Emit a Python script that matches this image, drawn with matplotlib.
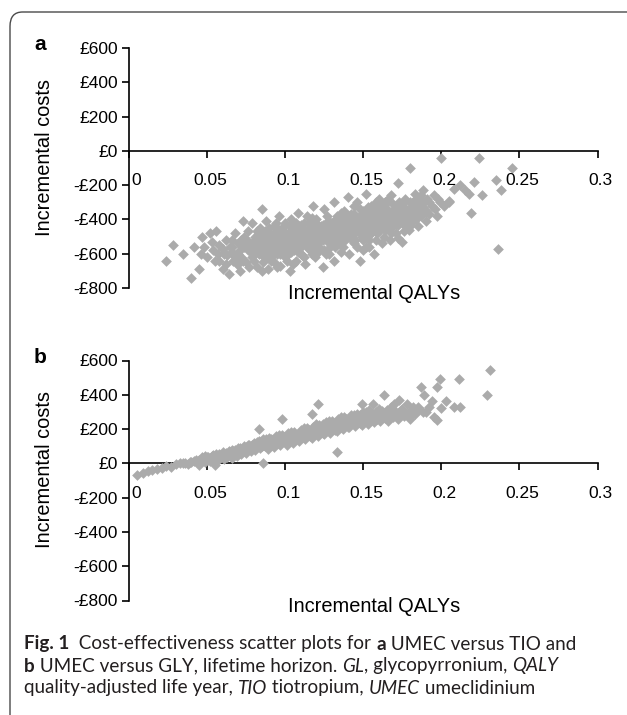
import matplotlib
matplotlib.use('Agg')
import matplotlib.pyplot as plt
from matplotlib.patches import FancyBboxPatch

plt.rcParams['font.family'] = ['Liberation Sans', 'DejaVu Sans']

# axis ticks
xticks = [0, 0.05, 0.1, 0.15, 0.2, 0.25, 0.3]
xlabels = ['0', '0.05', '0.1', '0.15', '0.2', '0.25', '0.3']
yticks = [600, 400, 200, 0, -200, -400, -600, -800]
ylabels = ['£600', '£400', '£200', '£0', '-£200', '-£400', '-£600', '-£800']

# panel a: UMEC vs TIO (incremental QALYs, incremental costs)
a_qaly = [0.024, 0.028, 0.035, 0.040, 0.042, 0.045, 0.046, 0.047, 0.050, 0.052, 0.054, 0.055, 0.056, 0.058,
          0.060, 0.061, 0.062, 0.064, 0.065, 0.067, 0.068, 0.070, 0.071, 0.072, 0.073, 0.074, 0.075, 0.076,
          0.078, 0.079, 0.080, 0.080, 0.081, 0.082, 0.083, 0.084, 0.085, 0.086, 0.087, 0.088, 0.088, 0.089,
          0.090, 0.091, 0.092, 0.093, 0.093, 0.094, 0.095, 0.096, 0.096, 0.097, 0.098, 0.099, 0.100, 0.100,
          0.101, 0.102, 0.103, 0.104, 0.104, 0.105, 0.106, 0.107, 0.108, 0.108, 0.109, 0.110, 0.111, 0.112,
          0.112, 0.113, 0.114, 0.115, 0.116, 0.117, 0.118, 0.118, 0.119, 0.120, 0.121, 0.122, 0.123, 0.124,
          0.125, 0.125, 0.126, 0.127, 0.128, 0.129, 0.130, 0.131, 0.131, 0.132, 0.133, 0.134, 0.135, 0.136,
          0.137, 0.138, 0.139, 0.140, 0.140, 0.141, 0.142, 0.143, 0.144, 0.145, 0.146, 0.146, 0.147, 0.148,
          0.149, 0.150, 0.151, 0.152, 0.152, 0.153, 0.154, 0.155, 0.156, 0.157, 0.158, 0.159, 0.160, 0.161,
          0.162, 0.163, 0.164, 0.165, 0.166, 0.167, 0.168, 0.169, 0.170, 0.171, 0.172, 0.173, 0.174, 0.175,
          0.176, 0.177, 0.178, 0.179, 0.180, 0.181, 0.182, 0.183, 0.184, 0.185, 0.186, 0.187, 0.188, 0.189,
          0.190, 0.191, 0.192, 0.194, 0.195, 0.197, 0.199, 0.200, 0.202, 0.205, 0.208, 0.212, 0.215, 0.219,
          0.221, 0.224, 0.226, 0.235, 0.236, 0.238, 0.245, 0.218, 0.205,
          0.070, 0.072, 0.074, 0.076, 0.077, 0.079, 0.081, 0.082, 0.084, 0.085, 0.086, 0.087, 0.089, 0.090,
          0.091, 0.092, 0.094, 0.095, 0.097, 0.098, 0.099, 0.101, 0.102, 0.103, 0.105, 0.106, 0.107, 0.108,
          0.110, 0.111, 0.112, 0.114, 0.115, 0.116, 0.117, 0.119, 0.120, 0.121, 0.122, 0.124, 0.125, 0.126,
          0.127, 0.128, 0.130, 0.131, 0.132, 0.133, 0.134, 0.136, 0.137, 0.138, 0.139, 0.141, 0.142, 0.143,
          0.144, 0.145, 0.147, 0.148, 0.149, 0.150, 0.151, 0.153, 0.154, 0.155, 0.156, 0.158, 0.159, 0.160,
          0.161, 0.163, 0.164, 0.165, 0.167, 0.168, 0.169, 0.171, 0.172, 0.174, 0.176, 0.178, 0.180, 0.182,
          0.184, 0.186, 0.060, 0.063, 0.066, 0.069, 0.058, 0.053, 0.048, 0.057, 0.062, 0.066]
a_cost = [-645, -550, -600, -740, -560, -690, -600, -500, -620, -480, -580, -640, -470, -550,
          -690, -600, -520, -720, -560, -640, -480, -600, -700, -520, -410, -560, -650, -470,
          -590, -420, -540, -640, -500, -680, -600, -450, -340, -560, -520, -620, -410, -690,
          -480, -580, -540, -650, -440, -500, -600, -380, -560, -670, -460, -520, -620, -420,
          -560, -490, -700, -590, -400, -530, -450, -640, -500, -360, -570, -470, -610, -420,
          -540, -660, -380, -490, -580, -450, -530, -320, -620, -400, -500, -560, -440, -680,
          -340, -470, -600, -520, -410, -560, -460, -300, -640, -500, -380, -540, -430, -590,
          -470, -350, -510, -400, -270, -600, -450, -520, -370, -480, -560, -300, -420, -640,
          -500, -350, -460, -250, -560, -400, -520, -320, -440, -600, -380, -480, -280, -420,
          -540, -350, -460, -300, -400, -520, -260, -440, -350, -480, -190, -400, -320, -530,
          -430, -280, -370, -460, -100, -330, -410, -250, -360, -440, -300, -380, -230, -340,
          -410, -280, -370, -320, -260, -380, -300, -40, -320, -290, -220, -200, -230, -360,
          -180, -40, -260, -170, -570, -230, -100, -250, -300,
          -540, -620, -500, -580, -530, -620, -570, -470, -530, -610, -490, -580, -540, -450,
          -520, -610, -470, -550, -510, -580, -440, -520, -600, -470, -560, -510, -420, -590,
          -520, -450, -490, -560, -420, -520, -600, -470, -540, -430, -490, -520, -580, -420,
          -470, -540, -500, -410, -560, -450, -490, -400, -530, -440, -480, -420, -370, -480,
          -540, -410, -460, -380, -440, -520, -400, -460, -350, -480, -390, -430, -330, -470,
          -370, -410, -300, -450, -360, -400, -310, -380, -430, -370, -330, -410, -300, -350,
          -280, -340, -570, -610, -520, -660, -640, -530, -560, -600, -660, -590]
# more points in the dense core of panel a
a_core = [(0.066, -560), (0.068, -620), (0.071, -580), (0.073, -640), (0.075, -520), (0.078, -560),
          (0.080, -600), (0.082, -540), (0.083, -500), (0.085, -570), (0.086, -650), (0.088, -500),
          (0.090, -560), (0.091, -640), (0.093, -580), (0.094, -420), (0.096, -520), (0.097, -600),
          (0.098, -540), (0.100, -480), (0.101, -640), (0.103, -530), (0.104, -470), (0.106, -580),
          (0.107, -540), (0.109, -440), (0.110, -600), (0.111, -500), (0.113, -520), (0.114, -460),
          (0.116, -480), (0.117, -390), (0.118, -570), (0.120, -460), (0.121, -590), (0.123, -480),
          (0.124, -430), (0.126, -500), (0.127, -380), (0.128, -600), (0.129, -450), (0.130, -540),
          (0.132, -420), (0.133, -520), (0.135, -470), (0.136, -360), (0.137, -560), (0.139, -420),
          (0.140, -500), (0.141, -380), (0.143, -440), (0.144, -320), (0.145, -520), (0.146, -400),
          (0.148, -340), (0.149, -470), (0.150, -400), (0.152, -430), (0.153, -330), (0.154, -490),
          (0.156, -360), (0.157, -420), (0.158, -300), (0.160, -400), (0.161, -450), (0.162, -320),
          (0.164, -380), (0.165, -420), (0.166, -280), (0.168, -360), (0.170, -400), (0.171, -330),
          (0.173, -300), (0.175, -380), (0.177, -420), (0.179, -340), (0.181, -380), (0.183, -320),
          (0.185, -300), (0.187, -260), (0.189, -300), (0.192, -300), (0.196, -340), (0.198, -280),
          (0.180, -440), (0.176, -470), (0.172, -510), (0.168, -480), (0.163, -500), (0.158, -520),
          (0.154, -560), (0.150, -580), (0.112, -620), (0.105, -660), (0.095, -680), (0.085, -700),
          (0.077, -680), (0.070, -660),
          (0.081, -520), (0.083, -560), (0.084, -490), (0.086, -530), (0.087, -470), (0.089, -600),
          (0.090, -520), (0.092, -500), (0.093, -530), (0.095, -480), (0.096, -460), (0.098, -500),
          (0.099, -560), (0.100, -540), (0.102, -520), (0.103, -440), (0.105, -490), (0.106, -540),
          (0.108, -470), (0.109, -520), (0.110, -430), (0.111, -550), (0.113, -480), (0.114, -500),
          (0.115, -540), (0.117, -500), (0.118, -430), (0.119, -510), (0.120, -480), (0.122, -460),
          (0.123, -520), (0.124, -470), (0.125, -500), (0.127, -440), (0.128, -490), (0.129, -510),
          (0.130, -420), (0.131, -470), (0.133, -480), (0.134, -420), (0.135, -500), (0.137, -440),
          (0.138, -470), (0.139, -380), (0.140, -450), (0.142, -410), (0.143, -500), (0.144, -460),
          (0.146, -440), (0.147, -390), (0.148, -480), (0.150, -430), (0.151, -360), (0.152, -480),
          (0.154, -420), (0.155, -380), (0.156, -460), (0.157, -340), (0.159, -400), (0.160, -360),
          (0.162, -430), (0.163, -380), (0.165, -340), (0.166, -430), (0.167, -390), (0.169, -350),
          (0.170, -420), (0.172, -360), (0.173, -400), (0.175, -340), (0.176, -300), (0.178, -380),
          (0.180, -350), (0.182, -300), (0.184, -400), (0.186, -380), (0.188, -330), (0.190, -350)]

# panel b: UMEC vs GLY
b_qaly = [0.005, 0.009, 0.012, 0.015, 0.018, 0.021, 0.024, 0.027, 0.030, 0.033, 0.036, 0.038, 0.040, 0.042,
          0.044, 0.045, 0.046, 0.048, 0.049, 0.050, 0.051, 0.052, 0.053, 0.054, 0.055, 0.055, 0.056, 0.057,
          0.058, 0.059, 0.060, 0.061, 0.062, 0.063, 0.064, 0.065, 0.066, 0.067, 0.068, 0.069, 0.070, 0.071,
          0.072, 0.073, 0.074, 0.075, 0.076, 0.077, 0.078, 0.079, 0.080, 0.081, 0.082, 0.083, 0.083, 0.084,
          0.085, 0.086, 0.086, 0.087, 0.088, 0.089, 0.090, 0.091, 0.092, 0.093, 0.094, 0.095, 0.096, 0.097,
          0.098, 0.098, 0.099, 0.100, 0.101, 0.102, 0.103, 0.104, 0.105, 0.106, 0.107, 0.108, 0.109, 0.110,
          0.111, 0.112, 0.113, 0.114, 0.115, 0.116, 0.117, 0.117, 0.118, 0.119, 0.120, 0.121, 0.121, 0.122,
          0.123, 0.124, 0.125, 0.126, 0.127, 0.128, 0.129, 0.130, 0.131, 0.132, 0.133, 0.133, 0.134, 0.135,
          0.136, 0.137, 0.138, 0.139, 0.140, 0.141, 0.142, 0.143, 0.144, 0.145, 0.146, 0.147, 0.148, 0.149,
          0.149, 0.150, 0.151, 0.152, 0.153, 0.154, 0.155, 0.156, 0.156, 0.157, 0.158, 0.159, 0.160, 0.161,
          0.162, 0.163, 0.164, 0.165, 0.166, 0.167, 0.168, 0.169, 0.170, 0.171, 0.172, 0.173, 0.174, 0.175,
          0.176, 0.178, 0.179, 0.180, 0.182, 0.183, 0.185, 0.187, 0.189, 0.190, 0.192, 0.194, 0.195, 0.197,
          0.197, 0.199, 0.200, 0.203, 0.208, 0.211, 0.212, 0.229, 0.231,
          0.045, 0.047, 0.050, 0.052, 0.054, 0.057, 0.059, 0.061, 0.063, 0.065, 0.067, 0.069, 0.071, 0.073,
          0.075, 0.077, 0.079, 0.081, 0.083, 0.085, 0.087, 0.089, 0.091, 0.093, 0.095, 0.097, 0.099, 0.101,
          0.103, 0.105, 0.107, 0.109, 0.111, 0.113, 0.115, 0.117, 0.119, 0.121, 0.123, 0.125, 0.127, 0.129,
          0.131, 0.133, 0.135, 0.137, 0.139, 0.141, 0.143, 0.145, 0.147, 0.151, 0.153, 0.157, 0.161, 0.165,
          0.169, 0.174]
b_cost = [-70, -55, -45, -40, -35, -25, -15, -20, -5, 0, 5, -5, 10, 15,
          5, -10, 20, 30, 10, 25, 40, 15, 35, 50, -10, 25, 40, 20,
          55, 35, 45, 25, 60, 40, 70, 50, 30, 60, 80, 45, 65, 90,
          55, 75, 100, 60, 85, 110, 70, 95, 120, 80, 100, 200, 130, 90,
          115, 0, 140, 100, 125, 85, 150, 110, 130, 95, 160, 120, 140, 105,
          260, 165, 130, 150, 110, 175, 135, 155, 120, 185, 145, 165, 130, 195,
          155, 175, 140, 205, 165, 185, 290, 150, 215, 175, 195, 347, 160, 225,
          185, 205, 170, 240, 195, 215, 180, 250, 205, 225, 69, 190, 260, 215,
          235, 200, 270, 225, 245, 210, 280, 235, 255, 220, 290, 240, 265, 345,
          225, 300, 250, 270, 230, 310, 255, 345, 280, 240, 300, 260, 320, 245,
          285, 398, 265, 310, 250, 290, 330, 270, 345, 300, 260, 370, 285, 320,
          275, 345, 300, 260, 330, 290, 310, 446, 398, 300, 330, 364, 270, 446,
          255, 490, 322, 364, 331, 490, 331, 398, 547,
          20, 25, 40, 30, 30, 45, 50, 55, 55, 65, 70, 75, 70, 90,
          95, 90, 110, 105, 110, 130, 125, 115, 140, 145, 135, 150, 155, 160,
          150, 170, 165, 180, 170, 190, 180, 200, 190, 210, 200, 220, 210, 230,
          220, 240, 230, 250, 240, 260, 250, 270, 260, 280, 290, 270, 300, 280,
          300, 310]
# more points in the dense band of panel b
b_core = [(0.035, 0), (0.039, 10), (0.043, 20), (0.047, 35), (0.049, 45), (0.051, 20), (0.053, 45),
          (0.056, 55), (0.058, 30), (0.060, 65), (0.062, 45), (0.064, 55), (0.066, 80), (0.068, 65),
          (0.070, 90), (0.072, 80), (0.074, 85), (0.076, 105), (0.078, 95), (0.080, 100), (0.082, 125),
          (0.084, 120), (0.086, 110), (0.088, 145), (0.090, 130), (0.092, 115), (0.094, 140), (0.096, 165),
          (0.098, 145), (0.100, 130), (0.102, 155), (0.104, 185), (0.106, 160), (0.108, 150), (0.110, 175),
          (0.112, 205), (0.114, 180), (0.116, 160), (0.118, 195), (0.120, 230), (0.122, 195), (0.124, 180),
          (0.126, 215), (0.128, 250), (0.130, 215), (0.132, 195), (0.134, 235), (0.136, 270), (0.138, 235),
          (0.140, 215), (0.142, 255), (0.144, 285), (0.146, 250), (0.148, 235), (0.150, 270), (0.152, 300),
          (0.154, 265), (0.158, 285), (0.162, 305), (0.166, 265), (0.170, 290), (0.175, 300), (0.180, 285),
          (0.185, 330), (0.188, 300),
          (0.055, 40), (0.058, 45), (0.061, 40), (0.064, 65), (0.067, 55), (0.070, 75), (0.073, 70),
          (0.076, 90), (0.079, 85), (0.082, 110), (0.085, 100), (0.088, 115), (0.091, 125), (0.094, 125),
          (0.097, 135), (0.100, 145), (0.103, 165), (0.106, 175), (0.109, 160), (0.112, 190), (0.115, 195),
          (0.118, 180), (0.121, 205), (0.124, 230), (0.127, 225), (0.130, 235), (0.133, 215), (0.136, 250),
          (0.139, 260), (0.142, 240), (0.145, 255), (0.148, 280), (0.151, 260), (0.155, 290), (0.160, 280),
          (0.165, 300)]

W, H = 627, 715
fig = plt.figure(figsize=(W / 100, H / 100), dpi=100)

# rounded frame (only top and left edges fall inside the picture)
frame = FancyBboxPatch((10 / W, 1 - 760 / H), 700 / W, 748 / H,
                       boxstyle='round,pad=0,rounding_size=0.02',
                       transform=fig.transFigure, fill=False,
                       edgecolor='#4a4a4a', linewidth=1.0)
fig.patches.append(frame)


def add_panel(top, xs, ys, core, letter):
    # axes box in pixels: x 128.8..597.6, y top..top+240
    ax = fig.add_axes([128.8 / W, 1 - (top + 240) / H, 468.8 / W, 240 / H])
    xs = list(xs) + [p[0] for p in core]
    ys = list(ys) + [p[1] for p in core]
    ax.scatter(xs, ys, marker='D', s=30, color='#ababab', linewidths=0, zorder=3)
    ax.set_xlim(0, 0.3)
    ax.set_ylim(-800, 600)
    for s in ['top', 'right']:
        ax.spines[s].set_visible(False)
    ax.spines['bottom'].set_position(('data', 0))
    ax.spines['bottom'].set_linewidth(1.2)
    ax.spines['left'].set_linewidth(1.2)
    ax.set_xticks(xticks)
    ax.set_xticklabels([])
    ax.set_yticks(yticks)
    ax.set_yticklabels(ylabels)
    ax.tick_params(axis='x', direction='out', length=5, width=1.2)
    ax.tick_params(axis='y', direction='out', length=5, width=1.2, pad=3, labelsize=12.5)
    ax.patch.set_visible(False)
    # x labels sit a little right of their ticks, the 0 clear of the y axis
    for xt, lab in zip(xticks, xlabels):
        dx = 7 if xt == 0 else 3
        ax.annotate(lab, (xt, 0), xytext=(dx, -30), textcoords='offset pixels',
                    ha='center', va='center', fontsize=12.5, annotation_clip=False)
    fig.text(45 / W, 1 - (top + 109) / H, 'Incremental costs', rotation=90,
             ha='center', va='center', fontsize=14.4)
    fig.text(374 / W, 1 - (top + 246) / H, 'Incremental QALYs',
             ha='center', va='center', fontsize=14.4)
    fig.text(40 / W, 1 - (top - 3) / H, letter, ha='center', va='center',
             fontsize=15, fontweight='bold')
    return ax


add_panel(48, a_qaly, a_cost, a_core, 'a')
add_panel(360.5, b_qaly, b_cost, b_core, 'b')

# caption with mixed styles
cap_font = 'Lato'
cap_size = 13.6
caption = [
    [('Fig. 1', 'bold', 'normal'), ('  Cost-effectiveness scatter plots for ', 'normal', 'normal'),
     ('a', 'bold', 'normal'), (' UMEC versus TIO and', 'normal', 'normal')],
    [('b', 'bold', 'normal'), (' UMEC versus GLY, lifetime horizon. ', 'normal', 'normal'),
     ('GL', 'normal', 'italic'), (', glycopyrronium, ', 'normal', 'normal'),
     ('QALY', 'normal', 'italic')],
    [('quality-adjusted life year, ', 'normal', 'normal'), ('TIO', 'normal', 'italic'),
     (' tiotropium, ', 'normal', 'normal'), ('UMEC', 'normal', 'italic'),
     (' umeclidinium', 'normal', 'normal')],
]
line_y = [644, 666, 688]

renderer = fig.canvas.get_renderer()
for parts, yy in zip(caption, line_y):
    x = 24
    for txt, wt, st in parts:
        t = fig.text(x / W, 1 - yy / H, txt, fontsize=cap_size, family=[cap_font, 'DejaVu Sans'],
                     fontweight=wt, fontstyle=st, ha='left', va='center', color='#231f20')
        # measure with a guard char so trailing spaces are counted
        probe = fig.text(0, 0, txt + '|', fontsize=cap_size, family=[cap_font, 'DejaVu Sans'],
                         fontweight=wt, fontstyle=st)
        bar = fig.text(0, 0, '|', fontsize=cap_size, family=[cap_font, 'DejaVu Sans'],
                       fontweight=wt, fontstyle=st)
        w = probe.get_window_extent(renderer).width - bar.get_window_extent(renderer).width
        probe.remove()
        bar.remove()
        x += w

fig.savefig('out.png', dpi=100)
